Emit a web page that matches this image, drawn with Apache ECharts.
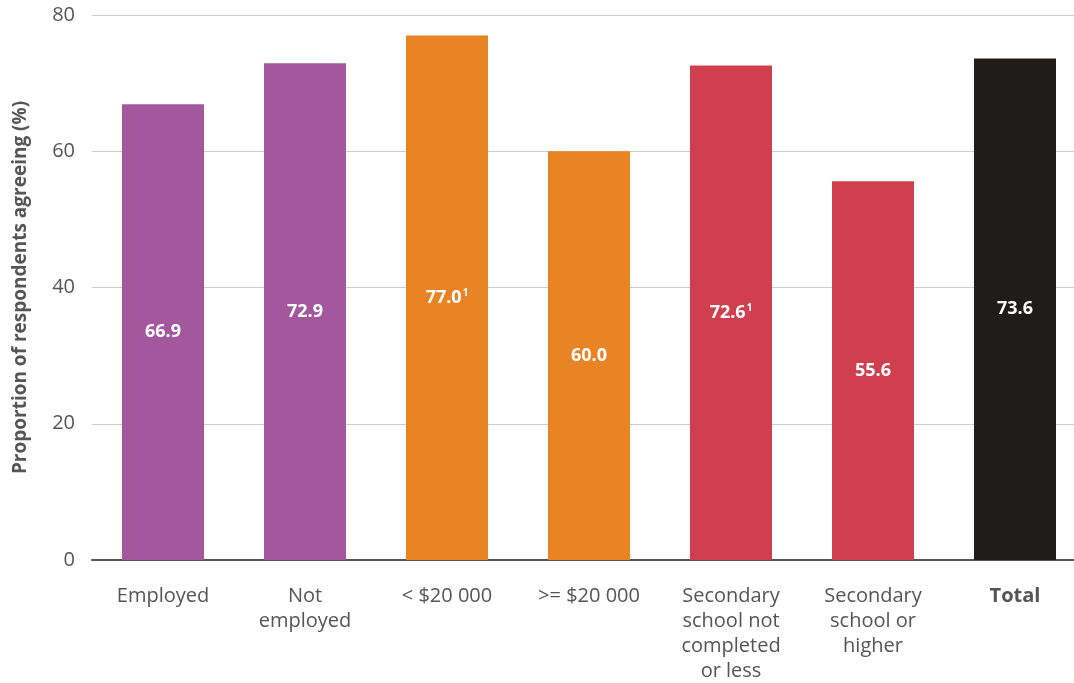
<!DOCTYPE html>
<html>
<head>
<meta charset="utf-8">
<script src="https://cdn.jsdelivr.net/npm/echarts@6/dist/echarts.min.js"></script>
<style>
  html, body { margin: 0; padding: 0; background: #fff; }
  #main { width: 1074px; height: 683px; }
</style>
</head>
<body>
<div id="main"></div>
<script>
// categories and values
var categories = ['Employed', 'Not\nemployed', '< $20 000', '>= $20 000',
  'Secondary\nschool not\ncompleted\nor less', 'Secondary\nschool or\nhigher', 'Total'];
var values = [66.9, 72.9, 77.0, 60.0, 72.6, 55.6, 73.6];
var footnotes = ['', '', '1', '', '1', '', ''];
var barColors = ['#a3579d', '#a3579d', '#e88424', '#e88424', '#cf3f4e', '#cf3f4e', '#1e1d1b'];
var yTicks = [0, 20, 40, 60, 80];

var font = '"Open Sans", "Noto Sans", sans-serif';

var chart = echarts.init(document.getElementById('main'));

var option = {
  backgroundColor: '#ffffff',
  animation: false,
  grid: {
    left: 92,
    top: 15,
    width: 994,
    height: 545,
    outerBoundsMode: 'none'
  },
  xAxis: {
    type: 'category',
    data: categories,
    axisLine: { lineStyle: { color: '#555555', width: 2 } },
    axisTick: { show: false },
    axisLabel: {
      interval: 0,
      margin: 24,
      color: '#555555',
      fontSize: 20,
      fontFamily: font,
      lineHeight: 25,
      formatter: function (v) {
        return v === 'Total' ? '{b|Total}' : v;
      },
      rich: {
        b: { fontWeight: 'bold', fontSize: 20, color: '#555555', fontFamily: font }
      }
    }
  },
  yAxis: {
    type: 'value',
    min: yTicks[0],
    max: yTicks[yTicks.length - 1],
    interval: 20,
    name: 'Proportion of respondents agreeing (%)',
    nameLocation: 'middle',
    nameGap: 62,
    nameTextStyle: {
      color: '#555555',
      fontSize: 19,
      fontWeight: 'bold',
      fontFamily: font
    },
    axisLine: { show: false },
    axisTick: { show: false },
    axisLabel: {
      margin: 17,
      color: '#555555',
      fontSize: 20,
      fontFamily: font
    },
    splitLine: { lineStyle: { color: '#cccccc', width: 1 } }
  },
  series: [{
    type: 'bar',
    barWidth: 82,
    data: values.map(function (v, i) {
      return { value: v, itemStyle: { color: barColors[i] } };
    }),
    label: {
      show: true,
      position: 'inside',
      formatter: function (p) {
        var s = p.value.toFixed(1);
        var f = footnotes[p.dataIndex];
        return f ? '{v|' + s + '}{s|' + f + '}' : '{v|' + s + '}';
      },
      rich: {
        v: { color: '#ffffff', fontSize: 18, fontWeight: 'bold', fontFamily: font },
        s: { color: '#ffffff', fontSize: 10, fontWeight: 'bold', fontFamily: font, verticalAlign: 'top', padding: [0, 0, 9, 1] }
      }
    }
  }]
};

chart.setOption(option);
</script>
</body>
</html>
